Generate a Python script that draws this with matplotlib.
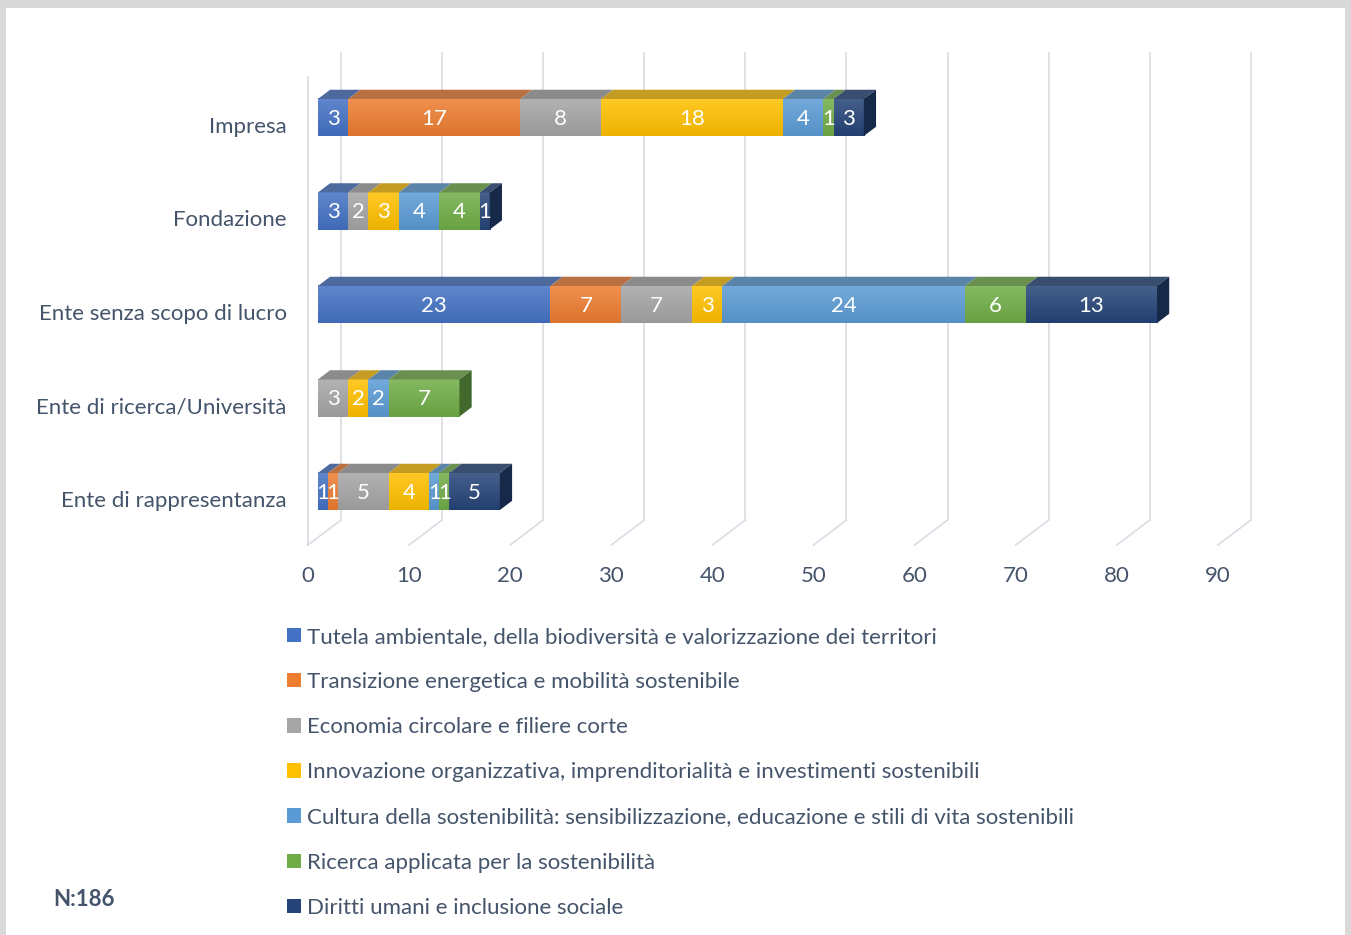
import matplotlib
matplotlib.use("Agg")
import matplotlib.pyplot as plt
import numpy as np
from matplotlib.patches import Polygon, Rectangle, Patch
from matplotlib.colors import to_rgb, LinearSegmentedColormap

plt.rcParams['font.family'] = ['Lato', 'DejaVu Sans']

# categories from bottom to top
categories = ["Ente di rappresentanza", "Ente di ricerca/Università",
              "Ente senza scopo di lucro", "Fondazione", "Impresa"]

themes = ["Tutela ambientale, della biodiversità e valorizzazione dei territori",
          "Transizione energetica e mobilità sostenibile",
          "Economia circolare e filiere corte",
          "Innovazione organizzativa, imprenditorialità e investimenti sostenibili",
          "Cultura della sostenibilità: sensibilizzazione, educazione e stili di vita sostenibili",
          "Ricerca applicata per la sostenibilità",
          "Diritti umani e inclusione sociale"]

colors = ["#4472C4", "#ED7D31", "#A5A5A5", "#FFC000", "#5B9BD5", "#70AD47", "#264478"]

# counts per theme, same order as categories
tutela = [1, 0, 23, 3, 3]
transizione = [1, 0, 7, 0, 17]
economia = [5, 3, 7, 2, 8]
innovazione = [4, 2, 3, 3, 18]
cultura = [1, 2, 24, 4, 4]
ricerca = [1, 7, 6, 4, 1]
diritti = [5, 0, 13, 1, 3]
series = [tutela, transizione, economia, innovazione, cultura, ricerca, diritti]

ticks = list(range(0, 100, 10))
n_total = 186

text_col = "#44546A"
grid_col = "#D9DCE3"
fs = 16

W, H = 1351, 935
fig = plt.figure(figsize=(W / 100, H / 100), dpi=100)
fig.patch.set_facecolor("#D9D9D9")
fig.add_artist(Rectangle((6 / W, 0), (1345 - 6) / W, (H - 8) / H, transform=fig.transFigure,
                         facecolor="white", edgecolor="none", zorder=-10))

# axes placed so that one value unit / one category row has a fixed pixel size
px_unit = 10.11
row_px = 93.5
x0_px, y0_px = 308, 499
xlim = (-1, 95)
ylim = (-0.52, 4.86)
ax = fig.add_axes([(x0_px + xlim[0] * px_unit) / W,
                   (H - (y0_px - ylim[0] * row_px)) / H,
                   (xlim[1] - xlim[0]) * px_unit / W,
                   (ylim[1] - ylim[0]) * row_px / H])
ax.set_facecolor("none")
for s in ax.spines.values():
    s.set_visible(False)

# fake 3d depth
DX = 33 / px_unit
DY = 25 / row_px
floor_y = -0.492
top_y = 4.77
f0, f1 = 0.3, 0.67
bh = 0.396

for v in ticks:
    ax.plot([v, v + DX], [floor_y, floor_y + DY], color=grid_col, lw=1.2, zorder=1)
    ax.plot([v + DX, v + DX], [floor_y + DY, top_y], color=grid_col, lw=1.2, zorder=1)
ax.plot([0, 0], [floor_y, 4.513], color=grid_col, lw=1.2, zorder=1)


def shade(c, k):
    r, g, b = to_rgb(c)
    return (r * k, g * k, b * k)


def tint(c, t):
    r, g, b = to_rgb(c)
    return (r + (1 - r) * t, g + (1 - g) * t, b + (1 - b) * t)


def top_col(c):
    return tuple(min(1, 0.64 * ch + 0.13) for ch in to_rgb(c))


y = np.arange(len(categories))
yc = y + f0 * DY
xs = f0 * DX
ddx = (f1 - f0) * DX
ddy = (f1 - f0) * DY
lefts = np.zeros(len(categories)) + xs
last_col = [None] * len(categories)
grad = np.linspace(0, 1, 64).reshape(-1, 1)

for j, vals in enumerate(series):
    c = colors[j]
    vals = np.array(vals)
    ax.barh(yc, vals, left=lefts, height=bh, color=c, edgecolor="none", zorder=3)
    cm = LinearSegmentedColormap.from_list("g%d" % j, [shade(c, 0.93), tint(c, 0.15)])
    for i, v in enumerate(vals):
        if v == 0:
            continue
        l = lefts[i]
        yb, yt = yc[i] - bh / 2, yc[i] + bh / 2
        ax.imshow(grad, extent=[l, l + v, yb, yt], origin="lower", aspect="auto",
                  cmap=cm, zorder=3.5, interpolation="bilinear")
        ax.add_patch(Polygon([(l, yt), (l + v, yt), (l + v + ddx, yt + ddy), (l + ddx, yt + ddy)],
                             closed=True, facecolor=top_col(c), edgecolor="none", zorder=4))
        ax.text(l + v / 2, yc[i] - 0.015, str(v), color="white", fontsize=fs,
                ha="center", va="center", zorder=6)
        last_col[i] = c
    lefts = lefts + vals

# right side faces of the bars
for i in range(len(categories)):
    e = lefts[i]
    yb, yt = yc[i] - bh / 2, yc[i] + bh / 2
    ax.add_patch(Polygon([(e, yb), (e, yt), (e + ddx, yt + ddy), (e + ddx, yb + ddy)],
                         closed=True, facecolor=shade(last_col[i], 0.6), edgecolor="none", zorder=4))

ax.set_xlim(xlim)
ax.set_ylim(ylim)
ax.set_xticks(ticks)
ax.set_xticklabels([str(t) for t in ticks], fontsize=fs, color=text_col)
ax.set_yticks(y)
ax.set_yticklabels(categories, fontsize=fs, color=text_col)
ax.tick_params(axis="x", length=0, pad=13)
ax.tick_params(axis="y", length=0, pad=8)

handles = [Patch(facecolor=c, edgecolor="none") for c in colors]
fig.legend(handles, themes, loc="upper left", bbox_to_anchor=(287 / W, 1 - 627 / H),
           frameon=False, fontsize=fs, labelcolor=text_col, labelspacing=1.13,
           handlelength=0.62, handleheight=0.62, handletextpad=0.26,
           borderpad=0, borderaxespad=0)

fig.text(53 / W, 1 - 900 / H, "N:%d" % n_total, fontsize=fs, fontweight="bold",
         color=text_col, ha="left", va="center")

fig.savefig("out.png", dpi=100, facecolor=fig.get_facecolor())
